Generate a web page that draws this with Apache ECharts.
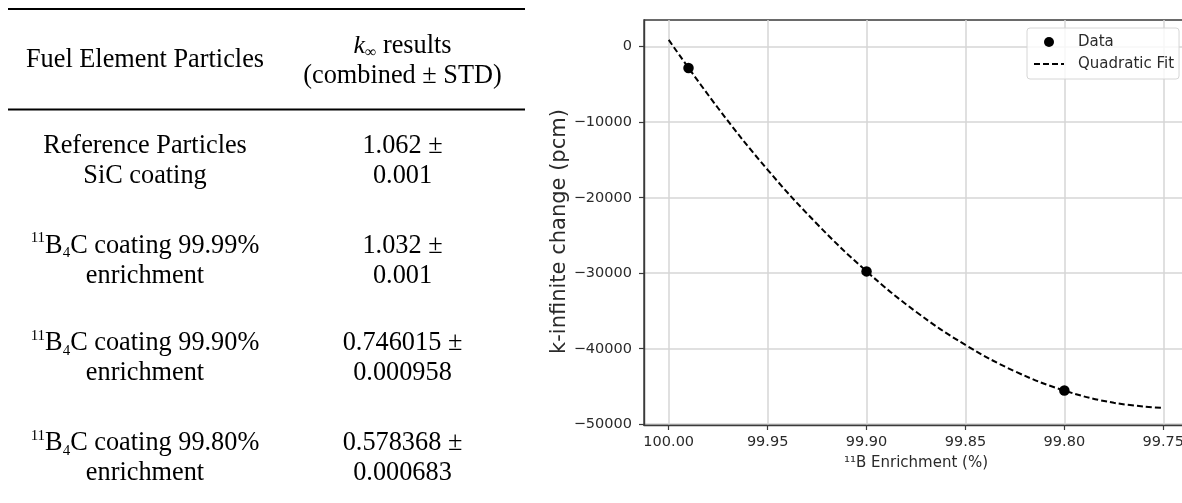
<!DOCTYPE html>
<html>
<head>
<meta charset="utf-8">
<script src="https://cdn.jsdelivr.net/npm/echarts@6/dist/echarts.min.js"></script>
<style>
  html, body { margin: 0; padding: 0; background: #fff; }
  #chart { width: 1182px; height: 503px; }
</style>
</head>
<body>
<div id="chart"></div>
<script>
// ---- Table data ----
const particleLabels = [
  'Reference Particles\nSiC coating',
  '{sup|11}B{sub|4}C coating 99.99%\nenrichment',
  '{sup|11}B{sub|4}C coating 99.90%\nenrichment',
  '{sup|11}B{sub|4}C coating 99.80%\nenrichment'
];
const kinfResults = [
  '1.062 ±\n0.001',
  '1.032 ±\n0.001',
  '0.746015 ±\n0.000958',
  '0.578368 ±\n0.000683'
];

// ---- Chart data ----
const enrichment = [99.99, 99.90, 99.80];            // 11B enrichment (%)
const kinfChange = [-2825, -29754, -45540];          // pcm
const fitEnrichment = [100.000, 99.975, 99.950, 99.925, 99.900, 99.875, 99.850, 99.825, 99.800, 99.775, 99.750];
const fitValues = [900, -8150, -16300, -23480, -29750, -35100, -39500, -42990, -45540, -47160, -47850];
const xTicks = [100.00, 99.95, 99.90, 99.85, 99.80, 99.75];
const yTicks = [0, -10000, -20000, -30000, -40000, -50000];

const serif = '"Liberation Serif", "Times New Roman", serif';
const sans = '"DejaVu Sans", sans-serif';

const rowCenters = [161, 261, 358.5, 458.5];
const col1X = 145, col2X = 402.5;

const richStyles = {
  sup: { fontSize: 15, fontFamily: serif, lineHeight: 24, verticalAlign: 'top', fill: '#000' },
  sub: { fontSize: 15, fontFamily: serif, lineHeight: 27, verticalAlign: 'bottom', fill: '#000' },
  k: { fontSize: 26, fontFamily: serif, fontStyle: 'italic', lineHeight: 30, fill: '#000' },
  inf: { fontSize: 16, fontFamily: serif, lineHeight: 26, verticalAlign: 'bottom', fill: '#000' }
};

function cellText(text, x, y) {
  return {
    type: 'text',
    silent: true,
    style: {
      text: text, x: x, y: y,
      fontSize: 26.3, fontFamily: serif, fill: '#000',
      lineHeight: 30,
      align: 'center', verticalAlign: 'middle',
      textAlign: 'center', textVerticalAlign: 'middle',
      rich: richStyles
    }
  };
}

const graphics = [
  { type: 'line', silent: true, shape: { x1: 8, y1: 9, x2: 525, y2: 9 }, style: { stroke: '#000', lineWidth: 2 } },
  { type: 'line', silent: true, shape: { x1: 8, y1: 109.5, x2: 525, y2: 109.5 }, style: { stroke: '#000', lineWidth: 2 } },
  cellText('Fuel Element Particles', col1X, 60),
  cellText('{k|k}{inf|∞} results\n(combined ± STD)', col2X, 61)
];
particleLabels.forEach((t, i) => graphics.push(cellText(t, col1X, rowCenters[i])));
kinfResults.forEach((t, i) => graphics.push(cellText(t, col2X, rowCenters[i])));

const chart = echarts.init(document.getElementById('chart'), null, { renderer: 'canvas' });
chart.setOption({
  animation: false,
  backgroundColor: '#fff',
  graphic: { elements: graphics },
  grid: {
    left: 644, top: 20, width: 544, height: 405,
    show: true, borderColor: '#3a3a3a', borderWidth: 1.4, backgroundColor: 'transparent',
    containLabel: false,
    outerBoundsMode: 'none'
  },
  legend: {
    left: 1027, top: 28,
    orient: 'vertical',
    padding: [5.5, 5, 6.5, 6],
    itemWidth: 30, itemHeight: 10, itemGap: 5,
    backgroundColor: 'rgba(255,255,255,0.8)',
    borderColor: '#d6d6d6', borderWidth: 1, borderRadius: 3,
    textStyle: { fontFamily: sans, fontSize: 15, color: '#2a2a2a', lineHeight: 17, padding: [0, 0, 0, 9] },
    data: [
      { name: 'Data', icon: 'circle' },
      { name: 'Quadratic Fit' }
    ]
  },
  xAxis: {
    type: 'value',
    inverse: true,
    min: 99.7375, max: 100.0125,
    name: '¹¹B Enrichment (%)',
    nameLocation: 'middle',
    nameGap: 31,
    nameTextStyle: { fontFamily: sans, fontSize: 15, color: '#2a2a2a' },
    axisLine: { show: true, onZero: false, lineStyle: { color: '#3a3a3a', width: 1.4 } },
    axisTick: { show: true, length: 5, inside: false, customValues: xTicks, lineStyle: { color: '#3a3a3a', width: 1.2 } },
    axisLabel: {
      customValues: xTicks, margin: 10,
      fontFamily: sans, fontSize: 14.5, color: '#2a2a2a',
      formatter: v => Number(v).toFixed(2)
    },
    splitLine: { show: true, lineStyle: { color: '#d6d6d6', width: 1.5 } }
  },
  yAxis: {
    type: 'value',
    min: -50100, max: 3540,
    name: 'k-infinite change (pcm)',
    nameLocation: 'middle',
    nameGap: 74,
    nameTextStyle: { fontFamily: sans, fontSize: 21, color: '#2a2a2a', padding: [0, 18, 0, 0] },
    axisLine: { show: true, onZero: false, lineStyle: { color: '#3a3a3a', width: 1.4 } },
    axisTick: { show: true, length: 5, inside: false, customValues: yTicks, lineStyle: { color: '#3a3a3a', width: 1.2 } },
    axisLabel: {
      customValues: yTicks, margin: 12,
      fontFamily: sans, fontSize: 14.5, color: '#2a2a2a',
      formatter: v => (v < 0 ? '\u2212' + Math.abs(v) : String(v))
    },
    splitLine: { show: true, lineStyle: { color: '#d6d6d6', width: 1.5 } }
  },
  series: [
    {
      name: 'Quadratic Fit',
      type: 'line',
      data: fitEnrichment.map((x, i) => [x, fitValues[i]]),
      smooth: 0.4,
      symbol: 'circle',
      showSymbol: false,
      lineStyle: { color: '#000', width: 2, type: [6, 3] },
      itemStyle: { color: 'transparent', borderWidth: 0 },
      z: 3
    },
    {
      name: 'Data',
      type: 'scatter',
      data: enrichment.map((x, i) => [x, kinfChange[i]]),
      symbol: 'circle',
      symbolSize: 10.5,
      itemStyle: { color: '#000', opacity: 1 },
      z: 4
    }
  ]
});
</script>
</body>
</html>
